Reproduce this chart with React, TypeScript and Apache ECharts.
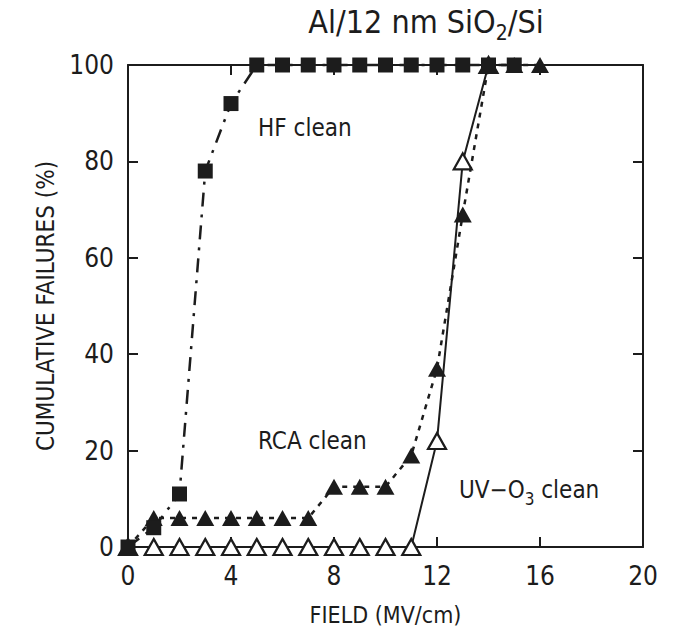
import React, { useEffect, useRef } from "react";
import * as echarts from "echarts";

const xTickValues = [0, 4, 8, 12, 16, 20];
const yTickValues = [0, 20, 40, 60, 80, 100];

const hfX = [0, 1, 2, 3, 4, 5, 6, 7, 8, 9, 10, 11, 12, 13, 14, 15];
const hfY = [0, 4, 11, 78, 92, 100, 100, 100, 100, 100, 100, 100, 100, 100, 100, 100];

const rcaX = [0, 1, 2, 3, 4, 5, 6, 7, 8, 9, 10, 11, 12, 13, 14, 15, 16];
const rcaY = [0, 6, 6, 6, 6, 6, 6, 6, 12.5, 12.5, 12.5, 19, 37, 69, 100, 100, 100];

const uvX = [0, 1, 2, 3, 4, 5, 6, 7, 8, 9, 10, 11, 12, 13, 14];
const uvY = [0, 0, 0, 0, 0, 0, 0, 0, 0, 0, 0, 0, 22, 80, 100];

const FONT = "'DejaVu Sans Condensed', 'Liberation Sans Narrow', 'Noto Sans', sans-serif";
const INK = "#1c1c1c";

const zip = (xs: number[], ys: number[]) => xs.map((x, i) => [x, ys[i]]);

export default function App() {
  const ref = useRef<HTMLDivElement>(null);
  useEffect(() => {
    if (!ref.current) return;
    const chart = echarts.init(ref.current, null, { renderer: "svg" });
    const axisCommon = {
      min: 0,
      axisLine: { show: true, onZero: false, lineStyle: { color: INK, width: 2 } },
      axisTick: { show: true, inside: true, length: 10, lineStyle: { color: INK, width: 2 } },
      splitLine: { show: false },
    };
    chart.setOption({
      animation: false,
      backgroundColor: "#ffffff",
      grid: { left: 128, right: 30, top: 65, bottom: 87 },
      xAxis: [
        {
          ...axisCommon,
          type: "value",
          max: 20,
          interval: 4,
          position: "bottom",
          axisLabel: {
            color: INK,
            fontSize: 26,
            fontFamily: FONT,
            margin: 16,
            formatter: (v: number) => (xTickValues.includes(v) ? String(v) : ""),
          },
          name: "FIELD (MV/cm)",
          nameLocation: "middle",
          nameGap: 56,
          nameTextStyle: { color: INK, fontSize: 23, fontFamily: FONT },
        },
        {
          ...axisCommon,
          type: "value",
          max: 20,
          interval: 4,
          position: "top",
          axisLabel: { show: false },
        },
      ],
      yAxis: [
        {
          ...axisCommon,
          type: "value",
          max: 100,
          interval: 20,
          position: "left",
          axisLabel: {
            color: INK,
            fontSize: 26,
            fontFamily: FONT,
            margin: 14,
            formatter: (v: number) => (yTickValues.includes(v) ? String(v) : ""),
          },
          name: "CUMULATIVE FAILURES (%)",
          nameLocation: "middle",
          nameGap: 70,
          nameRotate: 90,
          nameTextStyle: { color: INK, fontSize: 24, fontFamily: FONT },
        },
        {
          ...axisCommon,
          type: "value",
          max: 100,
          interval: 20,
          position: "right",
          axisLabel: { show: false },
        },
      ],
      graphic: [
        {
          type: "text",
          x: 426,
          y: 22,
          style: {
            text: "Al/12 nm SiO{s|2}/Si",
            align: "center",
            verticalAlign: "middle",
            fill: INK,
            font: `32px ${FONT}`,
            rich: {
              s: { fontSize: 21, fontFamily: FONT, fill: INK, padding: [22, 0, 0, 0] },
            },
          },
        },
        {
          type: "text",
          x: 258,
          y: 128,
          style: { text: "HF clean", verticalAlign: "middle", fill: INK, font: `24px ${FONT}` },
        },
        {
          type: "text",
          x: 258,
          y: 441,
          style: { text: "RCA clean", verticalAlign: "middle", fill: INK, font: `24px ${FONT}` },
        },
        {
          type: "text",
          x: 459,
          y: 490,
          style: {
            text: "UV−O{s|3} clean",
            verticalAlign: "middle",
            fill: INK,
            font: `24px ${FONT}`,
            rich: {
              s: { fontSize: 17, fontFamily: FONT, fill: INK, padding: [18, 0, 0, 0] },
            },
          },
        },
      ],
      series: [
        {
          name: "UV-O3 clean",
          type: "line",
          data: zip(uvX, uvY),
          symbol: "triangle",
          symbolSize: [18, 16],
          clip: false,
          z: 3,
          lineStyle: { color: INK, width: 2, type: "solid" },
          itemStyle: { color: "#ffffff", borderColor: INK, borderWidth: 2.2 },
        },
        {
          name: "RCA clean",
          type: "line",
          data: zip(rcaX, rcaY),
          symbol: "triangle",
          symbolSize: [18, 16],
          clip: false,
          z: 4,
          lineStyle: { color: INK, width: 2.5, type: [5, 6] },
          itemStyle: { color: INK },
        },
        {
          name: "HF clean",
          type: "line",
          data: zip(hfX, hfY),
          symbol: "rect",
          symbolSize: 15,
          clip: false,
          z: 5,
          lineStyle: { color: INK, width: 2.5, type: [14, 8, 3, 8] },
          itemStyle: { color: INK },
        },
      ],
    });
    return () => chart.dispose();
  }, []);
  return (
    <div
      ref={ref}
      style={{ position: "absolute", left: 0, top: 0, width: 673, height: 634, background: "#fff" }}
    />
  );
}
